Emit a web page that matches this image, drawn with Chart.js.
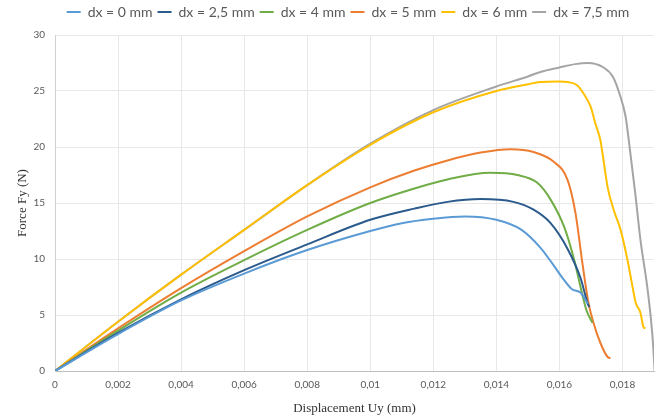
<!DOCTYPE html>
<html>
<head>
<meta charset="utf-8">
<script src="https://cdn.jsdelivr.net/npm/chart.js@4"></script>
<style>
    html, body { margin: 0; padding: 0; background: #fff; }
    #wrap { width: 664px; height: 418px; }
</style>
</head>
<body>
<div id="wrap"><canvas id="forceChart" width="664" height="418"></canvas></div>
<script>
// Force / displacement curves, one per dx offset

const seriesLabels = ['dx = 0 mm', 'dx = 2,5 mm', 'dx = 4 mm', 'dx = 5 mm', 'dx = 6 mm', 'dx = 7,5 mm'];
const seriesColors = ['#5b9bd5', '#2b5a8c', '#70ad47', '#ed7d31', '#ffc000', '#a5a5a5'];

const dx0Uy = [0, 0.002, 0.004, 0.006, 0.008, 0.010, 0.011, 0.012, 0.013, 0.014, 0.0148, 0.0154, 0.0158, 0.0161, 0.0164, 0.01667, 0.0169];
const dx0Fy = [0, 3.3, 6.3, 8.7, 10.8, 12.5, 13.2, 13.6, 13.8, 13.5, 12.6, 11.0, 9.5, 8.3, 7.3, 7.0, 6.0];

const dx25Uy = [0, 0.002, 0.004, 0.006, 0.008, 0.010, 0.0114, 0.01245, 0.0135, 0.01454, 0.01518, 0.01572, 0.01626, 0.01667, 0.0169, 0.01695];
const dx25Fy = [0, 3.4, 6.4, 9.0, 11.3, 13.5, 14.5, 15.1, 15.35, 15.1, 14.4, 13.2, 10.9, 8.3, 6.0, 5.7];

const dx4Uy = [0, 0.002, 0.004, 0.006, 0.008, 0.010, 0.0114, 0.01245, 0.0138, 0.01467, 0.0153, 0.01572, 0.01616, 0.01648, 0.01667, 0.01686, 0.01705];
const dx4Fy = [0, 3.6, 7.0, 9.9, 12.6, 15.0, 16.3, 17.1, 17.7, 17.5, 16.8, 15.3, 12.8, 9.8, 7.5, 5.4, 4.3];

const dx5Uy = [0, 0.002, 0.004, 0.006, 0.008, 0.010, 0.0114, 0.01245, 0.0135, 0.01445, 0.01518, 0.01581, 0.01626, 0.01651, 0.01673, 0.01692, 0.01708, 0.0173, 0.01753, 0.01762];
const dx5Fy = [0, 3.8, 7.4, 10.7, 13.8, 16.4, 17.9, 18.8, 19.5, 19.8, 19.55, 18.7, 17.05, 14.1, 9.6, 6.1, 4.3, 2.5, 1.25, 1.15];

const dx6Uy = [0, 0.002, 0.004, 0.006, 0.008, 0.010, 0.012, 0.014, 0.015, 0.0154, 0.016, 0.01626, 0.01657, 0.01676, 0.01699, 0.01714, 0.0173, 0.0174, 0.01753, 0.01772, 0.01794, 0.01816, 0.01832, 0.01842, 0.01857, 0.01867, 0.01873];
const dx6Fy = [0, 4.4, 8.6, 12.6, 16.6, 20.2, 23.1, 25.0, 25.6, 25.8, 25.85, 25.8, 25.5, 24.8, 23.6, 22.1, 20.6, 18.8, 16.4, 14.4, 12.6, 9.9, 7.5, 6.1, 5.2, 3.9, 3.8];

const dx75Uy = [0, 0.002, 0.004, 0.006, 0.008, 0.010, 0.012, 0.014, 0.015, 0.0154, 0.016, 0.0165, 0.0169, 0.0174, 0.0177, 0.0179, 0.0181, 0.0182, 0.0184, 0.01857, 0.0188, 0.01896, 0.01902];
const dx75Fy = [0, 4.4, 8.6, 12.6, 16.6, 20.3, 23.3, 25.4, 26.3, 26.7, 27.1, 27.4, 27.5, 27.1, 26.25, 24.8, 22.7, 20.6, 16.0, 11.7, 7.2, 2.8, 0];

const uyList = [dx0Uy, dx25Uy, dx4Uy, dx5Uy, dx6Uy, dx75Uy];
const fyList = [dx0Fy, dx25Fy, dx4Fy, dx5Fy, dx6Fy, dx75Fy];

const xMax = 0.019;
const xStep = 0.002;
const yMax = 30;
const yStep = 5;

function toPoints(xs, ys) {
    return xs.map((x, i) => ({ x: x, y: ys[i] }));
}

function commaLabel(v) {
    return String(Number(v.toFixed(3))).replace('.', ',');
}

// extra room under the legend, and nudge it right like the original
const legendTweak = {
    id: 'legendTweak',
    beforeInit(chart) {
        const legend = chart.legend;
        const fit = legend.fit;
        const draw = legend.draw;
        legend.fit = function () {
            fit.bind(legend)();
            this.height += 6;
        };
        legend.draw = function () {
            chart.ctx.save();
            chart.ctx.translate(15, 0);
            draw.bind(legend)();
            chart.ctx.restore();
        };
    }
};

const datasets = seriesLabels.map((label, i) => ({
    label: label,
    data: toPoints(uyList[i], fyList[i]),
    borderColor: seriesColors[i],
    backgroundColor: seriesColors[i],
    borderWidth: 2,
    pointRadius: 0,
    showLine: true,
    cubicInterpolationMode: 'monotone'
}));

const tickFont = { family: 'Lato', size: 10 };
const titleFont = { family: 'Liberation Serif', size: 13 };

new Chart(document.getElementById('forceChart').getContext('2d'), {
    type: 'scatter',
    data: { datasets: datasets },
    plugins: [legendTweak],
    options: {
        responsive: false,
        animation: false,
        layout: { padding: { left: 12, right: 10, top: 0, bottom: 0 } },
        plugins: {
            tooltip: { enabled: false },
            legend: {
                position: 'top',
                labels: {
                    usePointStyle: true,
                    pointStyle: 'line',
                    pointStyleWidth: 14,
                    boxHeight: 8,
                    padding: 5,
                    color: '#595959',
                    font: { family: 'Lato', size: 14 }
                }
            }
        },
        scales: {
            x: {
                type: 'linear',
                min: 0,
                max: xMax,
                afterFit: (s) => { s.height = 47; },
                ticks: {
                    stepSize: xStep,
                    includeBounds: false,
                    padding: 8,
                    color: '#595959',
                    font: tickFont,
                    maxRotation: 0,
                    callback: (v) => commaLabel(v)
                },
                grid: { color: '#e8e8e8', drawTicks: false },
                border: { color: '#bfbfbf' },
                title: {
                    display: true,
                    text: 'Displacement Uy (mm)',
                    color: '#333',
                    font: titleFont,
                    padding: { top: 2, bottom: 2 }
                }
            },
            y: {
                type: 'linear',
                min: 0,
                max: yMax,
                afterFit: (s) => { s.width = 43; },
                ticks: {
                    stepSize: yStep,
                    padding: 10,
                    color: '#595959',
                    font: tickFont
                },
                grid: { color: '#e8e8e8', drawTicks: false },
                border: { color: '#d0d0d0' },
                title: {
                    display: true,
                    text: 'Force Fy (N)',
                    color: '#333',
                    font: titleFont,
                    padding: { top: 3, bottom: 0 }
                }
            }
        }
    }
});
</script>
</body>
</html>
